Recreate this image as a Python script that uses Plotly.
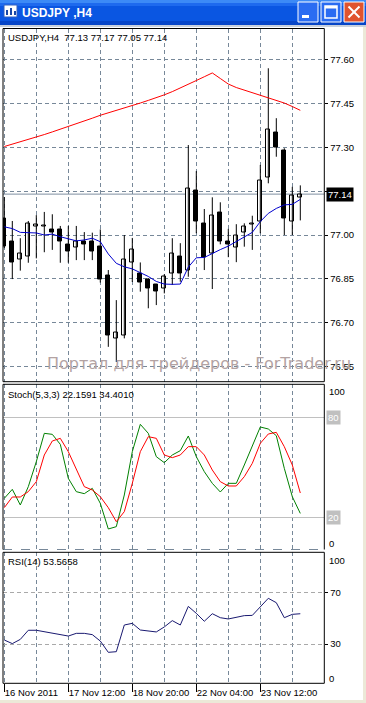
import plotly.graph_objects as go

W, H = 366, 703

symbol_title = "USDJPY ,H4"
header_main = "USDJPY,H4  77.13 77.17 77.05 77.14"
header_stoch = "Stoch(5,3,3) 22.1591 34.4010"
header_rsi = "RSI(14) 53.5658"
watermark = "Портал для трейдеров - ForTrader.ru"

opens = [77.058, 76.979, 76.916, 76.926, 77.028, 77.030, 77.020, 77.020, 76.968, 76.958,
         76.979, 76.979, 76.960, 76.860, 76.646, 76.655, 76.907, 76.869, 76.848, 76.829,
         76.817, 76.869, 76.928, 76.880, 77.151, 77.038, 76.937, 77.078, 76.979, 76.958,
         77.010, 77.036, 77.046, 77.198, 77.350, 77.291, 77.046, 77.130]
highs = [77.130, 77.048, 76.989, 77.048, 77.068, 77.079, 77.071, 77.031, 77.031, 77.031,
         77.010, 77.008, 77.019, 76.880, 76.777, 77.000, 76.990, 76.906, 76.852, 76.832,
         76.866, 76.989, 76.972, 77.308, 77.219, 77.089, 77.129, 77.112, 77.021, 77.037,
         77.040, 77.066, 77.240, 77.571, 77.400, 77.297, 77.165, 77.170]
lows = [76.955, 76.849, 76.878, 76.905, 76.920, 76.941, 76.949, 76.905, 76.905, 76.914,
        76.914, 76.914, 76.837, 76.617, 76.565, 76.646, 76.839, 76.806, 76.749, 76.760,
        76.800, 76.829, 76.840, 76.857, 77.006, 76.880, 76.815, 76.968, 76.924, 76.907,
        76.960, 76.949, 77.006, 77.177, 77.268, 77.000, 77.000, 77.050]
closes = [76.962, 76.905, 76.937, 77.038, 77.037, 77.031, 77.008, 76.977, 76.945, 76.979,
          76.968, 76.945, 76.848, 76.655, 76.667, 76.917, 76.949, 76.838, 76.817, 76.806,
          76.857, 76.937, 76.869, 77.160, 77.046, 76.924, 77.067, 76.977, 76.966, 76.999,
          77.030, 77.038, 77.188, 77.360, 77.299, 77.057, 77.137, 77.140]

ma_red = [77.303, 77.311, 77.318, 77.326, 77.335, 77.344, 77.353, 77.362, 77.371, 77.380,
          77.391, 77.400, 77.410, 77.418, 77.426, 77.435, 77.443, 77.452, 77.461, 77.470,
          77.480, 77.491, 77.503, 77.516, 77.529, 77.542, 77.555, 77.536, 77.517, 77.505,
          77.496, 77.488, 77.480, 77.469, 77.461, 77.452, 77.440, 77.427]
ma_blue = [77.028, 77.022, 77.009, 77.009, 77.007, 77.000, 77.003, 76.994, 76.986, 76.980,
           76.983, 76.989, 76.977, 76.935, 76.903, 76.891, 76.884, 76.871, 76.858, 76.841,
           76.832, 76.831, 76.832, 76.890, 76.922, 76.923, 76.937, 76.950, 76.962, 76.977,
           76.993, 77.009, 77.046, 77.074, 77.091, 77.103, 77.105, 77.122]

stoch_main = [31.2, 36.6, 27.2, 38.2, 53.2, 70.2, 69.6, 63.6, 43.2, 35.2,
              34.0, 37.2, 28.2, 12.8, 14.2, 33.2, 59.2, 75.6, 70.2, 56.2,
              52.6, 57.2, 59.8, 68.6, 56.2, 47.2, 40.2, 35.0, 40.2, 40.2,
              51.2, 62.2, 74.0, 72.8, 68.8, 49.2, 32.2, 22.16]
stoch_signal = [25.6, 32.0, 32.0, 35.2, 41.2, 57.2, 65.6, 67.2, 59.2, 48.2,
                38.2, 36.2, 32.2, 25.6, 17.2, 23.2, 40.2, 59.2, 68.2, 67.2,
                57.2, 55.6, 57.2, 62.2, 62.2, 57.2, 48.2, 41.2, 38.6, 38.6,
                44.2, 52.2, 64.2, 69.8, 70.8, 62.2, 51.2, 34.4]
rsi = [33.1, 30.3, 33.6, 40.7, 40.7, 39.6, 38.8, 37.8, 36.2, 38.3,
       38.3, 37.3, 32.3, 23.5, 24.0, 44.8, 46.1, 40.9, 40.1, 39.4,
       43.3, 48.2, 44.8, 59.3, 53.9, 47.7, 53.6, 50.5, 49.5, 50.8,
       52.1, 52.3, 59.1, 65.6, 62.2, 50.5, 53.1, 53.57]

price_ticks = [76.55, 76.70, 76.85, 77.00, 77.15, 77.30, 77.45, 77.60]
bid_price = 77.14
time_tick_idx = [0, 8, 16, 24, 32]
time_tick_labels = ["16 Nov 2011", "17 Nov 12:00", "18 Nov 20:00", "22 Nov 04:00", "23 Nov 12:00"]
stoch_levels = [20, 80]
rsi_levels = [30, 70]

FONT = "Liberation Sans, Arial, sans-serif"
GRID = "#778899"

def fx(px):
    return px / W

def fy(py):
    return 1 - py / H

n = len(closes)
idx = list(range(n))

# pane geometry (pixels)
PX0, PX1 = 3, 324.3
MAIN = (28.5, 381.7)
STO = (384.3, 549.5)
RSI = (552.3, 683.3)

fig = go.Figure()

# wicks
wx, wy = [], []
for i in idx:
    wx += [i, i, None]
    wy += [lows[i], highs[i], None]
fig.add_trace(go.Scatter(x=wx, y=wy, mode="lines", line=dict(color="black", width=1),
                         hoverinfo="skip", xaxis="x", yaxis="y"))
# bodies
fig.add_trace(go.Bar(
    x=idx,
    y=[max(abs(c - o), 0.0008) for o, c in zip(opens, closes)],
    base=[min(o, c) for o, c in zip(opens, closes)],
    width=0.5,
    marker=dict(color=["white" if c >= o else "black" for o, c in zip(opens, closes)],
                line=dict(color="black", width=1)),
    xaxis="x", yaxis="y"))
fig.add_trace(go.Scatter(x=idx, y=ma_red, mode="lines", line=dict(color="#FF0000", width=1),
                         xaxis="x", yaxis="y"))
fig.add_trace(go.Scatter(x=idx, y=ma_blue, mode="lines", line=dict(color="#0000CD", width=1),
                         xaxis="x", yaxis="y"))
# stochastic
fig.add_trace(go.Scatter(x=idx, y=stoch_main, mode="lines", line=dict(color="#008000", width=1),
                         xaxis="x2", yaxis="y2"))
fig.add_trace(go.Scatter(x=idx, y=stoch_signal, mode="lines", line=dict(color="#FF0000", width=1),
                         xaxis="x2", yaxis="y2"))
# rsi
fig.add_trace(go.Scatter(x=idx, y=rsi, mode="lines", line=dict(color="#191970", width=1),
                         xaxis="x3", yaxis="y3"))

xr = [(PX0 - 4.3) / 8, (PX1 - 4.3) / 8]
grid_x = list(range(0, 40, 4))
xcommon = dict(range=xr, domain=[fx(PX0), fx(PX1)], showline=False, zeroline=False,
               gridcolor=GRID, griddash="4px,3px", gridwidth=1, fixedrange=True,
               automargin=False)

def ydom(p):
    return [fy(p[1]), fy(p[0])]

def price_at(py):
    return 77 + (235 - py) / 292

def sto_at(py):
    return 20 + (517 - py) * 0.6

def rsi_at(py):
    return 30 + (644 - py) * 0.7792

fig.update_layout(
    width=W, height=H, margin=dict(l=0, r=0, t=0, b=0, autoexpand=False),
    paper_bgcolor="white", plot_bgcolor="white", showlegend=False,
    barmode="overlay", bargap=0,
    font=dict(family=FONT, size=9.5, color="black"),
    xaxis=dict(**xcommon, anchor="y", tickvals=grid_x, showticklabels=False, ticks=""),
    xaxis2=dict(**xcommon, anchor="y2", tickvals=grid_x, showticklabels=False, ticks=""),
    xaxis3=dict(**xcommon, anchor="y3", tickvals=time_tick_idx, ticktext=time_tick_labels,
                ticks="outside", ticklen=8, tickcolor="black", tickwidth=1, tickangle=0,
                ticklabelposition="outside right", tickfont=dict(size=9.5, family=FONT),
                minor=dict(tickmode="linear", tick0=0, dtick=4, showgrid=True,
                           gridcolor=GRID, griddash="4px,3px", ticks="")),
    yaxis=dict(domain=ydom(MAIN), range=[price_at(MAIN[1]), price_at(MAIN[0])], side="right",
               anchor="x", tickvals=price_ticks, automargin=False,
               ticktext=["%.2f" % v if abs(v - 77.15) > 1e-9 else "" for v in price_ticks],
               ticks="outside", ticklen=3, tickcolor="black", showline=False, zeroline=False,
               gridcolor=GRID, griddash="4px,3px", fixedrange=True),
    yaxis2=dict(domain=ydom(STO), range=[sto_at(STO[1]), sto_at(STO[0])], side="right",
                anchor="x2", tickvals=stoch_levels, showticklabels=False, ticks="",
                gridcolor="#C0C0C0", zeroline=False, fixedrange=True, automargin=False),
    yaxis3=dict(domain=ydom(RSI), range=[rsi_at(RSI[1]), rsi_at(RSI[0])], side="right",
                anchor="x3", tickvals=rsi_levels, ticks="outside", ticklen=3, tickcolor="black",
                gridcolor="#A9A9A9", griddash="4px,3px", zeroline=False, fixedrange=True,
                automargin=False),
)

shapes = []

def rect(x0, y0, x1, y1, fill, line="rgba(0,0,0,0)", lw=0, layer="above"):
    shapes.append(dict(type="rect", xref="paper", yref="paper", x0=fx(x0), x1=fx(x1),
                       y0=fy(y1), y1=fy(y0), fillcolor=fill,
                       line=dict(color=line, width=lw), layer=layer))

def hline(x0, x1, y, color="black", dash="solid", w=1):
    shapes.append(dict(type="line", xref="paper", yref="paper", x0=fx(x0), x1=fx(x1),
                       y0=fy(y), y1=fy(y), line=dict(color=color, width=w, dash=dash)))

def vline(x, y0, y1, color="black", w=1):
    shapes.append(dict(type="line", xref="paper", yref="paper", x0=fx(x), x1=fx(x),
                       y0=fy(y0), y1=fy(y1), line=dict(color=color, width=w)))

# bid line
shapes.append(dict(type="line", xref="paper", yref="y", x0=fx(PX0), x1=fx(PX1),
                   y0=bid_price, y1=bid_price, line=dict(color="#7F8FA0", width=1), layer="between"))

# pane borders
hline(PX0, PX1, MAIN[0]); hline(PX0, PX1, MAIN[1])
vline(PX0, MAIN[0], MAIN[1]); vline(PX1, MAIN[0], MAIN[1])
hline(PX0, PX1, STO[0]); hline(PX0, PX1, STO[1], color=GRID, dash="dash")
vline(PX0, STO[0], STO[1]); vline(PX1, STO[0], STO[1])
hline(PX0, PX1, RSI[0]); hline(PX0, PX1, RSI[1])
vline(PX0, RSI[0], RSI[1]); vline(PX1, RSI[0], RSI[1])

# window chrome
rect(0, 0, 366, 25, "#0A56E2")
rect(0, 0, 366, 3, "#3C8AF6")
rect(0, 3, 366, 6, "#1E6AEE")
rect(0, 21, 366, 25, "#0645C8")
rect(0, 25, 366, 27, "#C8D0DC")
rect(0, 700, 366, 703, "#ECE9D8")
rect(363, 27, 366, 703, "#ECE9D8")
# icon
rect(4, 5, 17, 17, "#FFFFFF", "#3060C0", 1)
rect(6, 10, 8, 15, "#1848A8")
rect(10, 8, 12, 15, "#1848A8")
rect(14, 11, 16, 15, "#1848A8")
# buttons
rect(298, 2, 318, 22, "#2A6CF2", "#FFFFFF", 1)
rect(302, 15, 309, 18, "#FFFFFF")
rect(321, 2, 341, 22, "#2A6CF2", "#FFFFFF", 1)
rect(325, 6, 337, 18, "rgba(0,0,0,0)", "#FFFFFF", 1.5)
rect(325, 6, 337, 8.5, "#FFFFFF")
rect(344, 2, 364, 22, "#E0542F", "#FFFFFF", 1)
shapes.append(dict(type="line", xref="paper", yref="paper", x0=fx(348.5), x1=fx(359.5),
                   y0=fy(6.5), y1=fy(17.5), line=dict(color="white", width=2)))
shapes.append(dict(type="line", xref="paper", yref="paper", x0=fx(348.5), x1=fx(359.5),
                   y0=fy(17.5), y1=fy(6.5), line=dict(color="white", width=2)))

fig.update_layout(shapes=shapes)

anns = []

def ann(x, y, text, size=9.5, color="black", xanchor="left", bg=None, bold=False, family=FONT,
        yref="paper", yval=None):
    d = dict(xref="paper", x=fx(x), yref=yref, y=fy(y) if yval is None else yval,
             text=("<b>%s</b>" % text) if bold else text, showarrow=False,
             xanchor=xanchor, yanchor="middle", font=dict(size=size, color=color, family=family),
             borderpad=1)
    if bg:
        d["bgcolor"] = bg
    anns.append(d)

ann(20, 12.5, symbol_title, size=12, color="white", bold=True)
ann(6, 37.5, header_main)
ann(6, 395, header_stoch)
ann(6, 561.7, header_rsi)
ann(45, 363, watermark, size=16, color="#B3A3A3", family="DejaVu Sans, sans-serif")
ann(326, 0, "77.14", color="white", bg="black", yref="y", yval=bid_price)
ann(327, 391, "100")
ann(327, 543, "0")
ann(325.5, 417, "80", color="white", bg="#C0C0C0")
ann(325.5, 517, "20", color="white", bg="#C0C0C0")
ann(327, 560, "100")
ann(327, 678, "0")

fig.update_layout(annotations=anns)

fig.write_html("out.html", config={"displayModeBar": False},
               post_script="document.body.style.margin='0';document.body.style.padding='0';"
                           "document.body.style.overflow='hidden';")
